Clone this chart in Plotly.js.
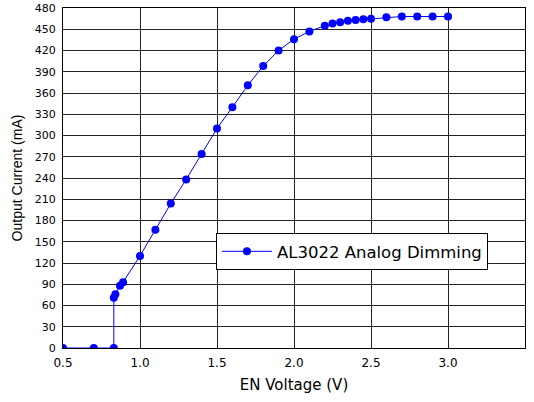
<!DOCTYPE html>
<html>
<head>
<meta charset="utf-8">
<script src="https://cdn.plot.ly/plotly-3.0.1.min.js"></script>
<style>html,body{margin:0;padding:0;background:#fff;}#chart{width:534px;height:402px;}</style>
</head>
<body>
<div id="chart"></div>
<script>
var seriesName = "AL3022 Analog Dimming";
var enVoltage = [0.5, 0.7, 0.83, 0.83, 0.84, 0.87, 0.89, 1.0, 1.1, 1.2, 1.3, 1.4, 1.5, 1.6, 1.7, 1.8, 1.9, 2.0, 2.1, 2.2, 2.25, 2.3, 2.35, 2.4, 2.45, 2.5, 2.6, 2.7, 2.8, 2.9, 3.0];
var outputCurrent = [0, 0, 0, 71, 76, 88, 93, 130, 167, 204, 238, 274, 310, 340, 371, 398, 420, 436, 447, 455, 458, 460, 462, 463, 464, 465, 467, 468, 468, 468, 468];
var xTicks = [0.5, 1.0, 1.5, 2.0, 2.5, 3.0, 3.5];
var yTicks = [0, 30, 60, 90, 120, 150, 180, 210, 240, 270, 300, 330, 360, 390, 420, 450, 480];

var trace = {
  x: enVoltage, y: outputCurrent, name: seriesName,
  type: 'scatter', mode: 'lines+markers',
  line: {color: '#0000ff', width: 1},
  marker: {color: '#0000ff', size: 8},
  showlegend: true
};
var fontFam = 'DejaVu Sans, Arial, sans-serif';
var fontV = 'Liberation Sans, Arial, sans-serif';
var layout = {
  width: 534, height: 402,
  margin: {l: 63, r: 9, t: 8, b: 54},
  paper_bgcolor: '#fff', plot_bgcolor: '#fff',
  font: {family: fontFam, color: '#000', size: 11},
  showlegend: true,
  xaxis: {
    range: [0.5, 3.5], tickvals: xTicks, ticktext: xTicks.map(function(v){return v.toFixed(1);}),
    showgrid: true, gridcolor: '#222', gridwidth: 1, zeroline: false,
    showline: true, linecolor: '#000', linewidth: 1, mirror: true,
    ticks: '', ticklabelstandoff: 4, tickfont: {size: 12, family: fontFam},
    title: {text: 'EN Voltage (V)', font: {size: 15, family: fontFam}, standoff: 10}
  },
  yaxis: {
    range: [0, 480], tickvals: yTicks,
    showgrid: true, gridcolor: '#222', gridwidth: 1, zeroline: false,
    showline: true, linecolor: '#000', linewidth: 1, mirror: true,
    ticks: '', ticklabelstandoff: 4, tickfont: {size: 11, family: fontFam},
    title: {text: 'Output Current (mA)', font: {size: 14, family: fontV}, standoff: 8}
  },
  legend: {
    x: 0.331, y: 0.338, xanchor: 'left', yanchor: 'top',
    bgcolor: '#fff', bordercolor: '#000', borderwidth: 1,
    itemwidth: 50,
    font: {size: 16.5, family: fontFam, color: '#000'}
  }
};
Plotly.newPlot('chart', [trace], layout, {displayModeBar: false, staticPlot: true});
</script>
</body>
</html>
